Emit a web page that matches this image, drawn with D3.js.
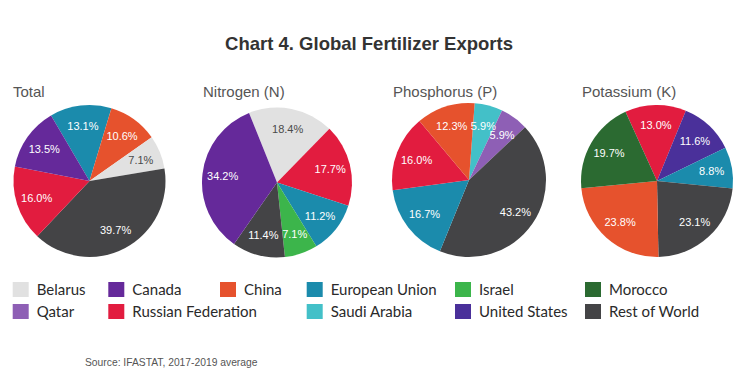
<!DOCTYPE html>
<html>
<head>
<meta charset="utf-8">
<script src="https://cdn.jsdelivr.net/npm/d3@7"></script>
<style>
  html, body { margin: 0; padding: 0; background: #fff; }
  svg { display: block; }
</style>
</head>
<body>
<svg id="chart" width="743" height="374"></svg>
<script>
// ---- Data ----
const chartTitle = "Chart 4. Global Fertilizer Exports";
const sourceNote = "Source: IFASTAT, 2017-2019 average";

const countries = ["Belarus", "Canada", "China", "European Union", "Israel", "Morocco",
                   "Qatar", "Russian Federation", "Saudi Arabia", "United States", "Rest of World"];

const pieTitles = ["Total", "Nitrogen (N)", "Phosphorus (P)", "Potassium (K)"];

// slices listed clockwise
const totalCats = ["European Union", "China", "Belarus", "Rest of World", "Russian Federation", "Canada"];
const totalVals = [13.1, 10.6, 7.1, 39.7, 16.0, 13.5];

const nitrogenCats = ["Belarus", "Russian Federation", "European Union", "Israel", "Rest of World", "Canada"];
const nitrogenVals = [18.4, 17.7, 11.2, 7.1, 11.4, 34.2];

const phosphorusCats = ["Saudi Arabia", "Qatar", "Rest of World", "European Union", "Russian Federation", "China"];
const phosphorusVals = [5.9, 5.9, 43.2, 16.7, 16.0, 12.3];

const potassiumCats = ["Russian Federation", "United States", "European Union", "Rest of World", "China", "Morocco"];
const potassiumVals = [13.0, 11.6, 8.8, 23.1, 23.8, 19.7];

// ---- Style / layout ----
const colors = {
  "Belarus": "#e1e1e1",
  "Canada": "#65299a",
  "China": "#e6522d",
  "European Union": "#1b8bac",
  "Israel": "#3cb54b",
  "Morocco": "#2b6a31",
  "Qatar": "#8e5fb5",
  "Russian Federation": "#e21c3f",
  "Saudi Arabia": "#43c0c8",
  "United States": "#4a309a",
  "Rest of World": "#444446"
};
const color = d3.scaleOrdinal().domain(countries).range(countries.map(c => colors[c]));

const pies = [
  { cats: totalCats, vals: totalVals, cx: 89.5, cy: 181, r: 76, start: -30.4, tx: 13 },
  { cats: nitrogenCats, vals: nitrogenVals, cx: 277, cy: 182.5, r: 75, start: -21.9, tx: 203 },
  { cats: phosphorusCats, vals: phosphorusVals, cx: 469, cy: 180, r: 77, start: 4.2, tx: 393 },
  { cats: potassiumCats, vals: potassiumVals, cx: 657, cy: 181, r: 76, start: -24.5, tx: 582 }
];

const svg = d3.select("#chart");
const HELV = "'Liberation Sans', Arial, Helvetica, sans-serif";

svg.append("text")
  .attr("x", 369).attr("y", 50)
  .attr("text-anchor", "middle")
  .attr("font-family", HELV)
  .attr("font-weight", "bold")
  .attr("font-size", "18.5px")
  .attr("fill", "#333")
  .text(chartTitle);

pies.forEach((p, i) => {
  const data = p.cats.map((c, j) => ({ cat: c, val: p.vals[j] }));
  const s0 = p.start * Math.PI / 180;
  const pie = d3.pie().sort(null).value(d => d.val).startAngle(s0).endAngle(s0 + 2 * Math.PI);
  const arc = d3.arc().innerRadius(0).outerRadius(p.r);
  const labelArc = d3.arc().innerRadius(p.r * 0.73).outerRadius(p.r * 0.73);
  const g = svg.append("g").attr("transform", `translate(${p.cx},${p.cy})`);
  const arcs = pie(data);
  g.selectAll("path").data(arcs).join("path")
    .attr("d", arc)
    .attr("fill", d => color(d.data.cat));
  g.selectAll("text").data(arcs).join("text")
    .attr("transform", d => `translate(${labelArc.centroid(d)})`)
    .attr("text-anchor", "middle")
    .attr("dy", "0.36em")
    .attr("font-family", HELV)
    .attr("font-size", "11px")
    .attr("fill", d => d.data.cat === "Belarus" ? "#4a4a4a" : "#fff")
    .text(d => d3.format(".1f")(d.data.val) + "%");

  svg.append("text")
    .attr("x", p.tx).attr("y", 96.5)
    .attr("font-family", HELV)
    .attr("font-size", "15px")
    .attr("fill", "#555")
    .text(pieTitles[i]);
});

// ---- Legend ----
const legendOrder = [
  ["Belarus", "Canada", "China", "European Union", "Israel", "Morocco"],
  ["Qatar", "Russian Federation", null, "Saudi Arabia", "United States", "Rest of World"]
];
const colX = [12.7, 108.3, 220, 306.7, 455, 585];
const rowY = [282, 304];
const legend = svg.append("g");
legendOrder.forEach((row, ri) => {
  row.forEach((c, ci) => {
    if (!c) return;
    const g = legend.append("g").attr("transform", `translate(${colX[ci]},${rowY[ri]})`);
    g.append("rect").attr("width", 16).attr("height", 15).attr("fill", color(c));
    g.append("text")
      .attr("x", 24).attr("y", 12.5)
      .attr("font-family", "Lato, 'Open Sans', sans-serif")
      .attr("font-size", "15px")
      .attr("fill", "#2a2a2a")
      .text(c);
  });
});

svg.append("text")
  .attr("x", 85).attr("y", 366)
  .attr("font-family", HELV)
  .attr("font-size", "10.3px")
  .attr("fill", "#555")
  .text(sourceNote);
</script>
</body>
</html>
